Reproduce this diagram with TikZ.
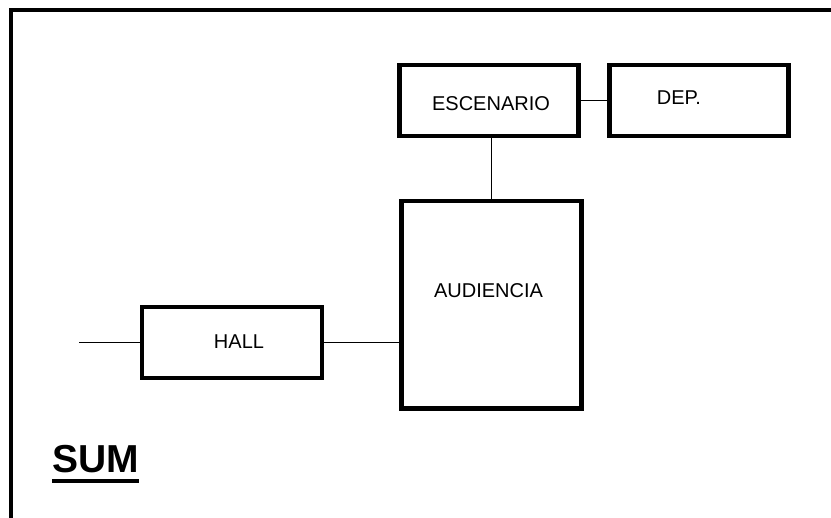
\documentclass[tikz,border=0pt]{standalone}
\usepackage{fontspec}
\setmainfont{Liberation Sans}
\usetikzlibrary{calc,positioning}
\begin{document}
\begin{tikzpicture}[x=1pt, y=-1pt, wire/.style={draw=black, line width=1.3pt}, frame/.style={draw=black, line width=4.5pt}]
% Define styles for rooms, labels and input
\tikzstyle{room} = [draw, fill=white, rectangle, line width=4.3pt, inner sep=0pt, minimum width=179pt, minimum height=71pt]
\tikzstyle{tag} = [inner sep=0pt, font=\fontsize{20}{23}\selectfont]
\tikzstyle{input} = [coordinate]

\useasboundingbox (0,0) rectangle (831,518);

% Outer frame
\draw[frame] (11,518) -- (11,10) -- (831,10);

% Nodes placement
\node [room, minimum width=180pt, minimum height=207.5pt] (audiencia) at (491.5,304.75) {};
\node [room] (escenario) at (489,100.2) {};
\node [room, right of=escenario, node distance=209.9pt] (dep) {};
\node [room, minimum width=180pt] (hall) at (232,342.7) {};
\coordinate [input, left of=hall, node distance=153pt] (in);

% Room names
\node [tag] (audienciatxt) at ($(audiencia)+(-3,-14)$) {AUDIENCIA};
\node [tag] (escenariotxt) at ($(escenario)+(2,3)$) {ESCENARIO};
\node [tag] (deptxt) at ($(dep)+(-20,-3)$) {DEP.};
\node [tag] (halltxt) at ($(hall)+(7,-1.5)$) {HALL};

% Title
\node [anchor=base west, inner sep=0pt, font=\fontsize{39}{43}\selectfont\bfseries] (sum) at (52,473) {SUM};
\draw[line width=3.5pt] ([yshift=-8pt]sum.base west) -- ([yshift=-8pt]sum.base east);

% Draw edges
\draw[wire] (in) -- (hall.west);
\draw[wire] (hall.east) -- (hall.east -| audiencia.west);
\draw[wire] (escenario.south -| audiencia.north) -- (audiencia.north);
\draw[wire] (escenario.east) -- (dep.west);

\end{tikzpicture}
\end{document}
